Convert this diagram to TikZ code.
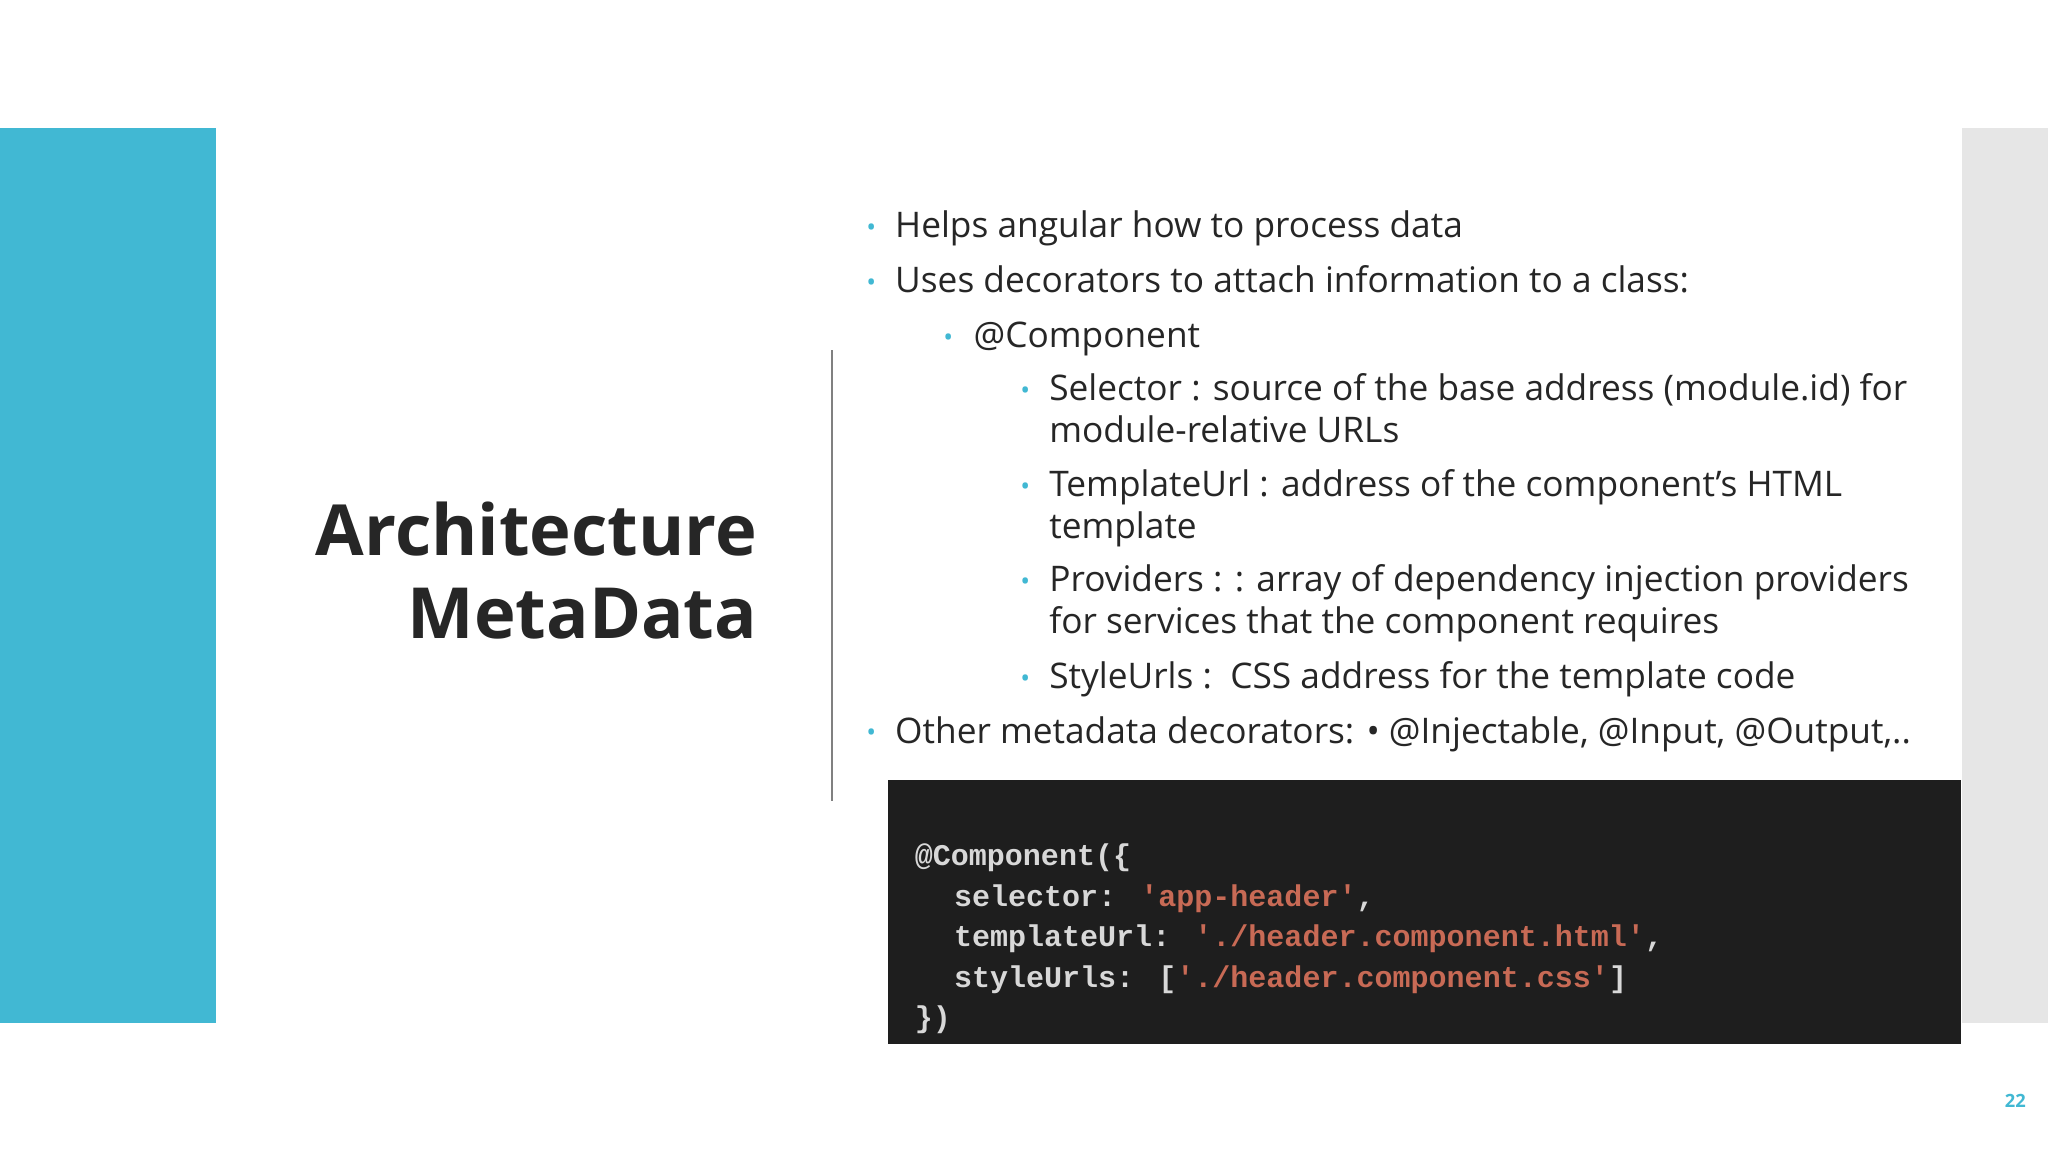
\documentclass[tikz,border=0pt]{standalone}
\usepackage{fontspec}
\setmainfont{Open Sans}
\newfontfamily\monob{Liberation Mono}
\definecolor{teal1}{HTML}{41B8D3}
\definecolor{greyr}{HTML}{E6E6E6}
\definecolor{codebg}{HTML}{1E1E1E}
\definecolor{codefg}{HTML}{D8D8D8}
\definecolor{codestr}{HTML}{C86A55}
\begin{document}
\begin{tikzpicture}[x=0.5pt,y=-0.5pt,
  txt/.style={anchor=base west,inner sep=0,font=\fontsize{13.5pt}{16pt}\selectfont,text=black!85},
  dot/.style={anchor=base,inner sep=0,font=\fontsize{10pt}{12pt}\selectfont,text=teal1},
  code/.style={anchor=base west,inner sep=0,font=\monob\bfseries\fontsize{11.5pt}{14pt}\selectfont,text=codefg}]
\useasboundingbox (0,0) rectangle (1568,882);
\fill[white] (0,0) rectangle (1568,882);
\fill[teal1] (0,98) rectangle (165,783);
\fill[greyr] (1502,98) rectangle (1568,783);
\draw[gray,line width=0.8pt] (637,268) -- (637,613);
\node[anchor=base east,inner sep=0,font=\bfseries\fontsize{27pt}{32pt}\selectfont,text=black!85,align=right] (t1) at (580,425) {Architecture};
\node[anchor=base east,inner sep=0,font=\bfseries\fontsize{27pt}{32pt}\selectfont,text=black!85] (t2) at (580,489) {MetaData};
% bullets
\node[dot] (d1) at (667,181) {•}; \node[txt] (b1) at (685,182) {Helps angular how to process data};
\node[dot] (d2) at (667,223) {•}; \node[txt] (b2) at (685,224) {Uses decorators to attach information to a class:};
\node[dot] (d3) at (726,265) {•}; \node[txt] (b3) at (745,266) {@Component};
\node[dot] (d4) at (785,306) {•}; \node[txt] (b4) at (803,307) {Selector : source of the base address (module.id) for};
\node[txt] (b4b) at (803,339) {module-relative URLs};
\node[dot] (d5) at (785,379) {•}; \node[txt] (b5) at (803,380) {TemplateUrl : address of the component's HTML};
\node[txt] (b5b) at (803,412) {template};
\node[dot] (d6) at (785,452) {•}; \node[txt] (b6) at (803,453) {Providers : : array of dependency injection providers};
\node[txt] (b6b) at (803,485) {for services that the component requires};
\node[dot] (d7) at (785,526) {•}; \node[txt] (b7) at (803,527) {StyleUrls :\ \ CSS address for the template code};
\node[dot] (d8) at (667,568) {•}; \node[txt] (b8) at (685,569) {Other metadata decorators: • @Injectable, @Input, @Output,..};
% code
\fill[codebg] (680,597) rectangle (1501,799);
\node[code] (c1) at (700,663) {@Component(\{};
\node[code] (c2) at (730,694) {selector: \textcolor{codestr}{'app-header'},};
\node[code] (c3) at (730,725) {templateUrl: \textcolor{codestr}{'./header.component.html'},};
\node[code] (c4) at (730,756) {styleUrls: [\textcolor{codestr}{'./header.component.css'}]};
\node[code] (c5) at (700,787) {\})};
\node[anchor=base,inner sep=0,font=\bfseries\fontsize{7pt}{8pt}\selectfont,text=teal1] (pg) at (1543,848) {22};
\end{tikzpicture}
\end{document}
